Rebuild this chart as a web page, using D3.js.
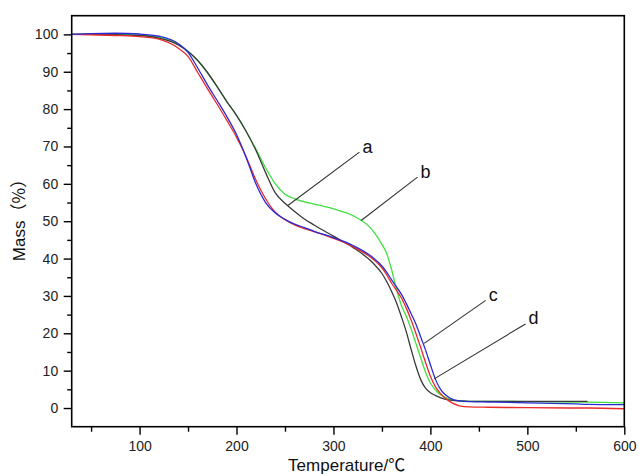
<!DOCTYPE html>
<html>
<head>
<meta charset="utf-8">
<script src="https://cdn.jsdelivr.net/npm/d3@7"></script>
<style>
  body { margin: 0; background: #fff; }
  svg { display: block; font-family: "Liberation Sans", Arial, sans-serif; }
  .axis text { font-size: 14px; fill: #222; }
  .axis line { stroke: #000; stroke-width: 1.4; }
  .axis path { display: none; }
</style>
</head>
<body>
<div id="chart"></div>
<script>
// temperatures (°C) shared by all four TGA curves
const temps = [30, 50, 75, 100, 120, 140, 150, 160, 170, 180, 190, 200, 210, 220, 230, 240, 250, 260, 270, 280,
  300, 320, 340, 350, 355, 360, 365, 370, 375, 380, 385, 390, 395, 400, 405, 410, 420, 430, 440, 460, 500, 550, 562, 600];

// mass (%) for each sample
const massA = [100, 100, 99.9, 99.7, 99.0, 97.2, 95.4, 93.0, 89.8, 86, 82, 78.3, 74, 69, 63, 57.6, 54.8, 52.6, 50.6, 49,
  46, 43, 39, 36, 33.8, 31.2, 28.2, 24.5, 20.5, 15.8, 11.3, 7.6, 5.3, 4.1, 3.4, 2.8, 2.1, 1.9, 1.8, 1.8, 1.8, 1.8, 1.8, null];
const massB = [100, 100, 100, 99.8, 99.2, 97.3, 95.5, 93.0, 89.8, 86, 82, 78.3, 74, 69.3, 64.3, 60, 57.2, 56, 55.2, 54.6,
  53.3, 51.5, 47.7, 43.8, 41.3, 37, 31.8, 27.5, 24.6, 21.2, 17.3, 13.4, 9.6, 6.7, 4.9, 3.6, 2.4, 1.9, 1.8, 1.8, 1.7, 1.6, 1.6, 1.4];
const massC = [100, 100.2, 100.3, 100.1, 99.5, 97.5, 95.2, 91, 86.5, 82.3, 78, 73.2, 67, 60, 55, 52.2, 50.5, 49.2, 48.3, 47.3,
  45.6, 43.5, 40.4, 38, 36.3, 34.3, 32.4, 30.5, 28, 25.3, 22.5, 19, 15.5, 11.6, 7.8, 5.2, 2.7, 1.9, 1.7, 1.6, 1.4, 1.1, 1.0, 0.9];
const massD = [100, 99.9, 99.7, 99.4, 98.7, 96.3, 94.1, 89.8, 85.5, 81.3, 77, 72.5, 67.2, 61, 56, 52.4, 50.4, 49, 48, 47.2,
  45.4, 43.2, 40, 37.5, 35.6, 33.4, 31.5, 29.5, 26.8, 23.6, 20, 16.2, 12.2, 8.5, 5.8, 4.0, 1.7, 0.6, 0.3, 0.2, 0.1, 0, 0, -0.2];

const seriesNames = ["b", "a", "d", "c"];
const seriesMass = { a: massA, b: massB, c: massC, d: massD };
const seriesColor = { a: "#3a3a3a", b: "#3fe03f", c: "#2b2bd6", d: "#ec2a2a" };

// leader lines: [label, temp on curve, mass on curve, temp at label, mass at label]
const callouts = [
  ["a", 253, 54.2, 326.8, 68.5],
  ["b", 328.6, 50.2, 386.7, 61.8],
  ["c", 393.6, 17.3, 457.0, 28.8],
  ["d", 403.9, 7.8, 498.1, 22.5],
];

const xMajor = [100, 200, 300, 400, 500, 600];
const xMinor = [50, 150, 250, 350, 450, 550];
const yMajor = [0, 10, 20, 30, 40, 50, 60, 70, 80, 90, 100];
const yMinor = [5, 15, 25, 35, 45, 55, 65, 75, 85, 95];

const width = 639, height = 475;
const margin = { top: 15.7, right: 14.7, bottom: 48.3, left: 71.7 };
const innerW = width - margin.left - margin.right;
const innerH = height - margin.top - margin.bottom;

const svg = d3.select("#chart").append("svg")
  .attr("width", width)
  .attr("height", height);

const g = svg.append("g")
  .attr("transform", `translate(${margin.left},${margin.top})`);

const x = d3.scaleLinear().domain([30, 600]).range([0, innerW]);
const y = d3.scaleLinear().domain([-5, 105]).range([innerH, 0]);

// minor ticks
g.append("g").attr("class", "axis")
  .attr("transform", `translate(0,${innerH})`)
  .call(d3.axisBottom(x).tickValues(xMinor).tickSize(5).tickFormat(""));
g.append("g").attr("class", "axis")
  .call(d3.axisLeft(y).tickValues(yMinor).tickSize(4.5).tickFormat(""));

// major ticks
g.append("g").attr("class", "axis")
  .attr("transform", `translate(0,${innerH})`)
  .call(d3.axisBottom(x).tickValues(xMajor).tickSize(8).tickPadding(6));
g.append("g").attr("class", "axis")
  .call(d3.axisLeft(y).tickValues(yMajor).tickSize(8).tickPadding(5.5));

// curves
const line = d3.line()
  .defined((d) => d[1] != null)
  .x((d) => x(d[0]))
  .y((d) => y(d[1]))
  .curve(d3.curveMonotoneX);

g.append("defs").append("clipPath").attr("id", "clip")
  .append("rect").attr("width", innerW).attr("height", innerH);

g.append("g").attr("clip-path", "url(#clip)")
  .selectAll("path.curve")
  .data(seriesNames)
  .join("path")
  .attr("class", "curve")
  .attr("fill", "none")
  .attr("stroke", (k) => seriesColor[k])
  .attr("stroke-width", 1.3)
  .attr("d", (k) => line(temps.map((t, i) => [t, seriesMass[k][i]])));

// callouts
g.selectAll("line.leader")
  .data(callouts)
  .join("line")
  .attr("class", "leader")
  .attr("x1", (d) => x(d[1]))
  .attr("y1", (d) => y(d[2]))
  .attr("x2", (d) => x(d[3]))
  .attr("y2", (d) => y(d[4]))
  .attr("stroke", "#333")
  .attr("stroke-width", 1.1);

g.selectAll("text.callout")
  .data(callouts)
  .join("text")
  .attr("class", "callout")
  .attr("x", (d) => x(d[3]) + 3)
  .attr("y", (d) => y(d[4]) + 0.5)
  .attr("font-size", 18)
  .attr("fill", "#111")
  .text((d) => d[0]);

// frame
g.append("rect")
  .attr("width", innerW)
  .attr("height", innerH)
  .attr("fill", "none")
  .attr("stroke", "#000")
  .attr("stroke-width", 1.6);

// axis titles
const yTitle = svg.append("text")
  .attr("transform", `translate(25,216) rotate(-90)`)
  .attr("text-anchor", "middle")
  .attr("font-size", 17)
  .attr("fill", "#111");
yTitle.append("tspan").text("Mass");
yTitle.append("tspan").attr("font-family", "'Noto Sans CJK SC'").text("（%）");

const xTitle = svg.append("text")
  .attr("x", 346.7)
  .attr("y", 471)
  .attr("text-anchor", "middle")
  .attr("font-size", 17)
  .attr("fill", "#111");
xTitle.append("tspan").text("Temperature/");
xTitle.append("tspan").attr("font-family", "'Noto Sans CJK SC'").text("℃");
</script>
</body>
</html>
